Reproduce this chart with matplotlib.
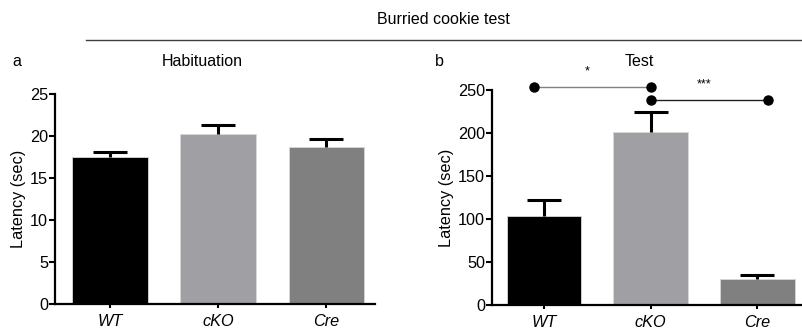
import matplotlib
matplotlib.use("Agg")
import matplotlib.pyplot as plt
from matplotlib.lines import Line2D

plt.rcParams['font.family'] = ['Liberation Sans', 'DejaVu Sans']

groups = ["WT", "cKO", "Cre"]
colors = ["#000000", "#a0a0a4", "#808080"]

hab_means = [17.5, 20.2, 18.65]
hab_err = [0.55, 1.1, 0.95]

test_means = [103, 201, 30]
test_err = [19, 24, 5]

hab_ticks = [0, 5, 10, 15, 20, 25]
test_ticks = [0, 50, 100, 150, 200, 250]

# significance: (group i, group j, y value, label, line colour)
sig_pairs = [(0, 1, 253, "*", "#808080"), (1, 2, 238, "***", "#202020")]

FS = 11.7

fig = plt.figure(figsize=(8.02, 3.29), dpi=100)

ax1 = fig.add_axes([55/802, 25/329, 320/802, 210/329])
ax2 = fig.add_axes([492/802, 24/329, 310/802, 215/329])


def style(ax, ticks, ylim, xlim):
    x = list(range(len(groups)))
    for sp in ["top", "right"]:
        ax.spines[sp].set_visible(False)
    for sp in ["left", "bottom"]:
        ax.spines[sp].set_linewidth(1.6)
    ax.set_ylim(*ylim)
    ax.set_xlim(*xlim)
    ax.set_yticks(ticks)
    ax.set_yticklabels([str(t) for t in ticks], fontsize=FS)
    ax.set_xticks(x)
    ax.set_xticklabels(groups, fontsize=FS, style="italic")
    ax.tick_params(axis="y", direction="out", length=4, width=1.5, pad=1)
    ax.tick_params(axis="x", direction="out", length=3, width=1.5, pad=4)
    ax.set_ylabel("Latency (sec)", fontsize=FS, labelpad=3)


def bars(ax, means, errs):
    x = list(range(len(groups)))
    ax.bar(x, means, width=0.70, color=colors, edgecolor="#d8d8d8", linewidth=0.6, zorder=2)
    _, caps, _ = ax.errorbar(x, means, yerr=[[0]*len(errs), errs], fmt="none", ecolor="black",
                             elinewidth=2.2, capsize=12.5, capthick=2.2, zorder=3)
    # only upper caps, as in the original
    if len(caps) == 2:
        caps[0].set_visible(False)


bars(ax1, hab_means, hab_err)
style(ax1, hab_ticks, (0, 25), (-0.51, 2.45))

bars(ax2, test_means, test_err)
style(ax2, test_ticks, (0, 250), (-0.49, 2.42))

for i, j, yv, lab, col in sig_pairs:
    xi = i - 0.1 if i == 0 else i
    xj = j + 0.1 if j == 2 else j
    ax2.plot([xi, xj], [yv, yv], color=col, linewidth=1.0, clip_on=False, zorder=4)
    ax2.plot([xi, xj], [yv, yv], linestyle="none", marker="o", markersize=6.5,
             color="black", clip_on=False, zorder=5)
    ax2.text((xi + xj) / 2 - 0.05, yv + 12, lab, ha="center", va="bottom", fontsize=9)

# headings
fig.text(443/802, 1 - 20/329, "Burried cookie test", ha="center", va="center", fontsize=11.5)
fig.add_artist(Line2D([86/802, 1.0], [1 - 40/329, 1 - 40/329], color="#404040",
                      linewidth=1.0, transform=fig.transFigure))
fig.text(12/802, 1 - 62/329, "a", ha="left", va="center", fontsize=11.5)
fig.text(202/802, 1 - 62/329, "Habituation", ha="center", va="center", fontsize=11.5)
fig.text(435/802, 1 - 62/329, "b", ha="left", va="center", fontsize=11.5)
fig.text(639/802, 1 - 62/329, "Test", ha="center", va="center", fontsize=11.5)

fig.savefig("out.png", dpi=100)
